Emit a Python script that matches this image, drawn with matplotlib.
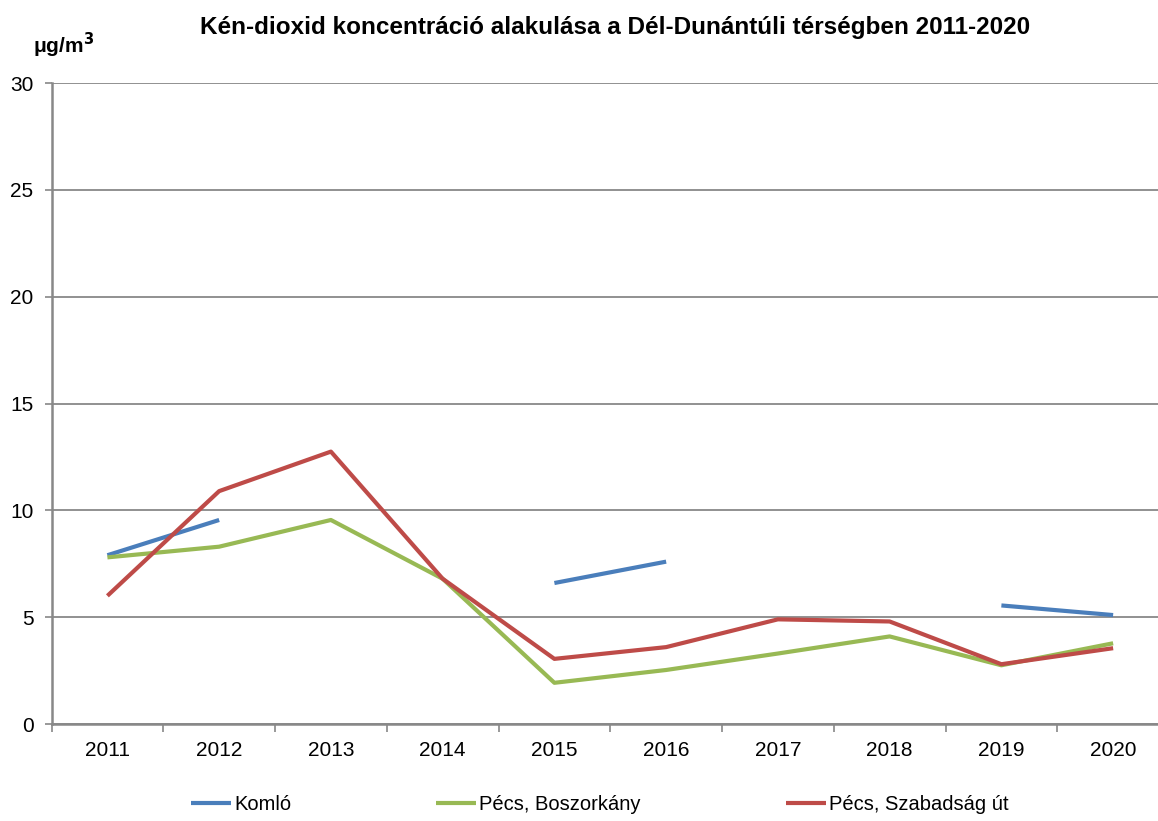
"""Kén-dioxid éves koncentráció, Dél-Dunántúl"""

import numpy as np
import matplotlib.pyplot as plt
from matplotlib.ticker import FixedLocator, MultipleLocator

plt.rcParams['font.family'] = ['Liberation Sans', 'DejaVu Sans']

years = ['2011', '2012', '2013', '2014', '2015', '2016', '2017', '2018', '2019', '2020']
komlo = [7.9, 9.55, np.nan, np.nan, 6.6, 7.6, np.nan, np.nan, 5.55, 5.1]
boszorkany = [7.8, 8.3, 9.55, 6.8, 1.93, 2.53, 3.3, 4.1, 2.75, 3.78]
szabadsag = [6.0, 10.9, 12.75, 6.8, 3.05, 3.6, 4.9, 4.8, 2.8, 3.55]

series = [
    ('Komló', komlo, '#4A7EBB'),
    ('Pécs, Boszorkány', boszorkany, '#98B954'),
    ('Pécs, Szabadság út', szabadsag, '#BE4B48'),
]

grey = '#888888'

fig = plt.figure(figsize=(11.58, 8.21), dpi=100)
ax = fig.add_axes([0.0445, 0.1181, 0.965, 0.7808])

x = np.arange(len(years))
for name, vals, color in series:
    ax.plot(x, vals, color=color, lw=3, label=name, solid_capstyle='butt', zorder=3)

ax.set_xlim(-0.5, len(years) - 0.5)
ax.set_ylim(0, 30)
ax.yaxis.set_major_locator(MultipleLocator(5))
ax.grid(axis='y', color=grey, lw=1.3)
ax.set_axisbelow(True)

# category boundaries get the tick marks, the centres get the labels
ax.xaxis.set_major_locator(FixedLocator(np.arange(-0.5, len(years), 1.0)))
ax.xaxis.set_minor_locator(FixedLocator(x))
ax.set_xticklabels([], minor=False)
ax.set_xticklabels(years, minor=True)
ax.tick_params(axis='x', which='major', length=6, width=1.2, color=grey, direction='out')
ax.tick_params(axis='x', which='minor', length=0, pad=12, labelsize=15)
ax.tick_params(axis='y', length=5, width=1.2, color=grey, pad=8, labelsize=15)

for side in ('top', 'right'):
    ax.spines[side].set_visible(False)
for side in ('left', 'bottom'):
    ax.spines[side].set_color(grey)
    ax.spines[side].set_linewidth(1.8)

fig.text(0.531, 0.966, 'Kén-dioxid koncentráció alakulása a Dél-Dunántúli térségben 2011-2020',
         ha='center', va='center', fontsize=17.5, fontweight='bold')
fig.text(0.055, 0.945, 'μg/m$^{\\mathbf{3}}$', ha='center', va='center',
         fontsize=15, fontweight='bold')

fig.legend(loc='center', bbox_to_anchor=(0.518, 0.02), ncol=3, frameon=False,
           fontsize=14.5, handlelength=2.0, handletextpad=0.15, columnspacing=7.2)

fig.savefig('out.png', dpi=100)
